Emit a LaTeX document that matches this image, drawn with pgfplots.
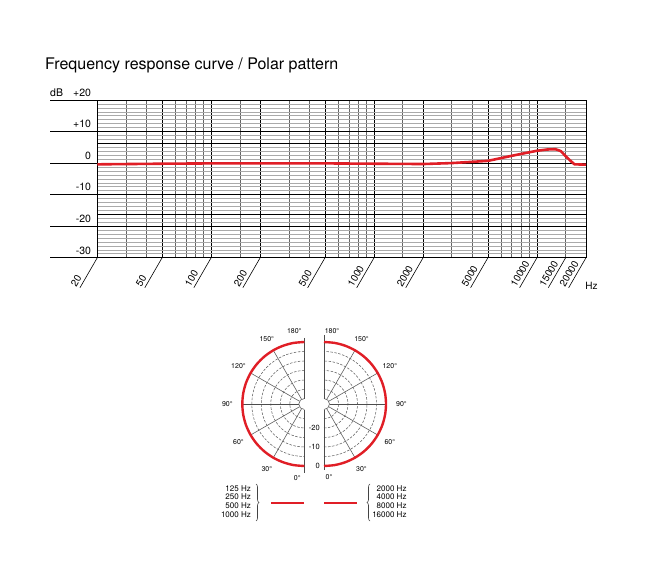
\documentclass[border=0pt]{standalone}
\usepackage{fontspec}
\setmainfont{TeX Gyre Heros}
\usepackage{pgfplots}
\pgfplotsset{compat=1.18}
\usepackage{pgfplotstable}
\usetikzlibrary{decorations.pathreplacing}
\definecolor{curvered}{RGB}{224,30,38}
\definecolor{gridmin}{RGB}{170,170,170}
\definecolor{gridxmin}{RGB}{100,100,100}
\definecolor{polgray}{RGB}{95,95,95}

\pgfplotstableread{
freq dB
20 -0.4
50 -0.2
100 -0.1
200 -0.1
500 -0.1
1000 -0.2
2000 -0.3
3000 0.0
5000 0.7
7000 2.3
10000 3.9
11500 4.3
13000 4.4
14000 3.8
15000 2.2
16000 0.8
17000 -0.4
20000 -0.5
}\freqdata

\pgfplotstableread{
angle dB
0 0
10 0
20 0
30 0
40 0
50 0
60 0
70 0
80 0
90 0
100 0
110 0
120 0
130 0
140 0
150 0
160 0
170 0
180 0
}\polarlow

\pgfplotstableread{
angle dB
0 0
10 0
20 0
30 0
40 0
50 0
60 0
70 0
80 0
90 0
100 0
110 0
120 0
130 0
140 0
150 0
160 0
170 0
180 0
}\polarhigh

\begin{document}
\begin{tikzpicture}
\useasboundingbox (0,0) rectangle (650pt,579pt);
\node[anchor=base west, font=\fontsize{16}{19}\selectfont, inner sep=0pt] at (45pt,509.5pt) {Frequency response curve / Polar pattern};
\node[anchor=base west, font=\fontsize{10.5}{12}\selectfont, inner sep=0pt] at (50pt,482.3pt) {dB};
\node[font=\fontsize{10}{12}\selectfont, inner sep=0pt] at (591.5pt,293pt) {Hz};

\begin{axis}[
  at={(97.3pt,321.3pt)}, anchor=south west,
  scale only axis, width=488.7pt, height=157.7pt,
  xmode=log, xmin=20, xmax=20000, ymin=-30, ymax=20,
  xtick={20,50,100,200,500,1000,2000,5000,10000,20000},
  minor xtick={30,40,60,70,80,90,150,300,400,600,700,800,900,1500,3000,4000,6000,7000,8000,9000,15000},
  xticklabels={},
  ytick={-30,-20,-10,0,10,20},
  yticklabels={-30,-20,-10,0,+10,+20},
  minor y tick num=7,
  extra y ticks={-16.25,6.25}, extra y tick labels={},
  grid=both,
  major grid style={black, line width=0.7pt},
  minor x grid style={gridxmin, line width=0.6pt},
  minor y grid style={gridmin, line width=0.55pt},
  major tick length=0pt, minor tick length=0pt,
  axis line style={black, line width=0.8pt},
  yticklabel style={font=\fontsize{10.5}{12}\selectfont, anchor=south east, xshift=-2.8pt},
  clip=false,
]
\pgfplotsinvokeforeach{-30,-20,-10,0,10,20}{
  \draw[black, line width=0.7pt] (axis cs:20,#1) -- ++(-47.3pt,0pt);
}
\pgfplotsinvokeforeach{20,50,100,200,500,1000,2000,5000,10000,15000,20000}{
  \draw[black, line width=0.6pt] (axis cs:#1,-30) -- ++(240:34.7pt);
  \node[rotate=60, anchor=base west, inner sep=0pt, font=\fontsize{10}{12}\selectfont] at ([shift={(240:34.7pt)}, xshift=-3.6pt]axis cs:#1,-30) {#1};
}
\addplot[curvered, line width=2.6pt, line join=round] table[x=freq, y=dB] {\freqdata};
\end{axis}

% left polar half (125-1000 Hz)
\begin{axis}[at={(304.3pt,175pt)}, anchor=center, x=1pt, y=1pt,
  xmin=-85, xmax=85, ymin=-85, ymax=85, hide axis, clip=false]
\pgfplotsinvokeforeach{52.5,43,33.5,24,14.5}{
  \draw[polgray, line width=0.55pt, dash pattern=on 2.5pt off 1.5pt] (axis cs:0,#1) arc[start angle=90, end angle=270, radius=#1pt];
}
\pgfplotsinvokeforeach{120,150,210,240}{
  \draw[polgray, line width=0.6pt] ([shift={(#1:5.5pt)}]axis cs:0,0) -- ([shift={(#1:62pt)}]axis cs:0,0);
}
\draw[polgray!80!black, line width=0.8pt] ([shift={(180:5.5pt)}]axis cs:0,0) -- ([shift={(180:62pt)}]axis cs:0,0);
\draw[polgray, line width=0.6pt] (axis cs:0,5.5) arc[start angle=90, end angle=270, radius=5.5pt];
\draw[polgray!80!black, line width=0.9pt] (axis cs:0,66) -- (axis cs:0,5.5);
\draw[polgray!80!black, line width=0.9pt] (axis cs:0,-5.5) -- (axis cs:0,-69);
\addplot[curvered, line width=2.4pt, smooth, data cs=polar] table[x expr=270-\thisrow{angle}, y expr=62+1.9*\thisrow{dB}] {\polarlow};
\begin{scope}[every node/.style={font=\fontsize{7}{8}\selectfont, inner sep=0pt}]
\node at ([shift={(240:75pt)}]axis cs:0,0) {30°};
\node at ([shift={(210:76pt)}]axis cs:0,0) {60°};
\node at ([shift={(180:77pt)}]axis cs:0,0) {90°};
\node at ([shift={(150:76pt)}]axis cs:0,0) {120°};
\node at ([shift={(120:75pt)}]axis cs:0,0) {150°};
\node at (axis cs:-10,72.5) {180°};
\node at (axis cs:-7,-74) {0°};
\end{scope}
\end{axis}

% right polar half (2000-16000 Hz)
\begin{axis}[at={(324pt,175pt)}, anchor=center, x=1pt, y=1pt,
  xmin=-85, xmax=85, ymin=-85, ymax=85, hide axis, clip=false]
\pgfplotsinvokeforeach{52.5,43,33.5,24,14.5}{
  \draw[polgray, line width=0.55pt, dash pattern=on 2.5pt off 1.5pt] (axis cs:0,-#1) arc[start angle=-90, end angle=90, radius=#1pt];
}
\pgfplotsinvokeforeach{-60,-30,30,60}{
  \draw[polgray, line width=0.6pt] ([shift={(#1:5.5pt)}]axis cs:0,0) -- ([shift={(#1:62pt)}]axis cs:0,0);
}
\draw[polgray!80!black, line width=0.8pt] ([shift={(0:5.5pt)}]axis cs:0,0) -- ([shift={(0:62pt)}]axis cs:0,0);
\draw[polgray, line width=0.6pt] (axis cs:0,-5.5) arc[start angle=-90, end angle=90, radius=5.5pt];
\draw[polgray!80!black, line width=0.9pt] (axis cs:0,69) -- (axis cs:0,5.5);
\draw[polgray!80!black, line width=0.9pt] (axis cs:0,-5.5) -- (axis cs:0,-66);
\addplot[curvered, line width=2.4pt, smooth, data cs=polar] table[x expr=\thisrow{angle}-90, y expr=62+1.9*\thisrow{dB}] {\polarhigh};
\begin{scope}[every node/.style={font=\fontsize{7}{8}\selectfont, inner sep=0pt}]
\node at ([shift={(-60:75pt)}]axis cs:0,0) {30°};
\node at ([shift={(-30:76pt)}]axis cs:0,0) {60°};
\node at ([shift={(0:77.5pt)}]axis cs:0,0) {90°};
\node at ([shift={(30:76pt)}]axis cs:0,0) {120°};
\node at ([shift={(60:75pt)}]axis cs:0,0) {150°};
\node at (axis cs:8,72.5) {180°};
\node at (axis cs:5,-73) {0°};
\node[anchor=east, font=\fontsize{7.5}{8}\selectfont] at (axis cs:-4,-24.3) {-20};
\node[anchor=east, font=\fontsize{7.5}{8}\selectfont] at (axis cs:-4,-43.3) {-10};
\node[anchor=east, font=\fontsize{7.5}{8}\selectfont] at (axis cs:-4,-62) {0};
\end{scope}
\end{axis}

% legend
\node[anchor=east, align=right, inner sep=0pt, font=\fontsize{8}{8.7}\selectfont] at (251pt,77.7pt) {125 Hz\\250 Hz\\500 Hz\\1000 Hz};
\draw[polgray!70!black, line width=0.6pt, decorate, decoration={brace, amplitude=3pt}] (256pt,95pt) -- (256pt,58pt);
\draw[curvered, line width=2pt] (271pt,75.7pt) -- (304pt,75.7pt);
\draw[curvered, line width=2pt] (324pt,76.3pt) -- (356.7pt,76.3pt);
\draw[polgray!70!black, line width=0.6pt, decorate, decoration={brace, amplitude=3pt}] (370pt,58pt) -- (370pt,95pt);
\node[anchor=east, align=right, inner sep=0pt, font=\fontsize{8}{8.7}\selectfont] at (406.7pt,77.7pt) {2000 Hz\\4000 Hz\\8000 Hz\\16000 Hz};
\end{tikzpicture}
\end{document}
